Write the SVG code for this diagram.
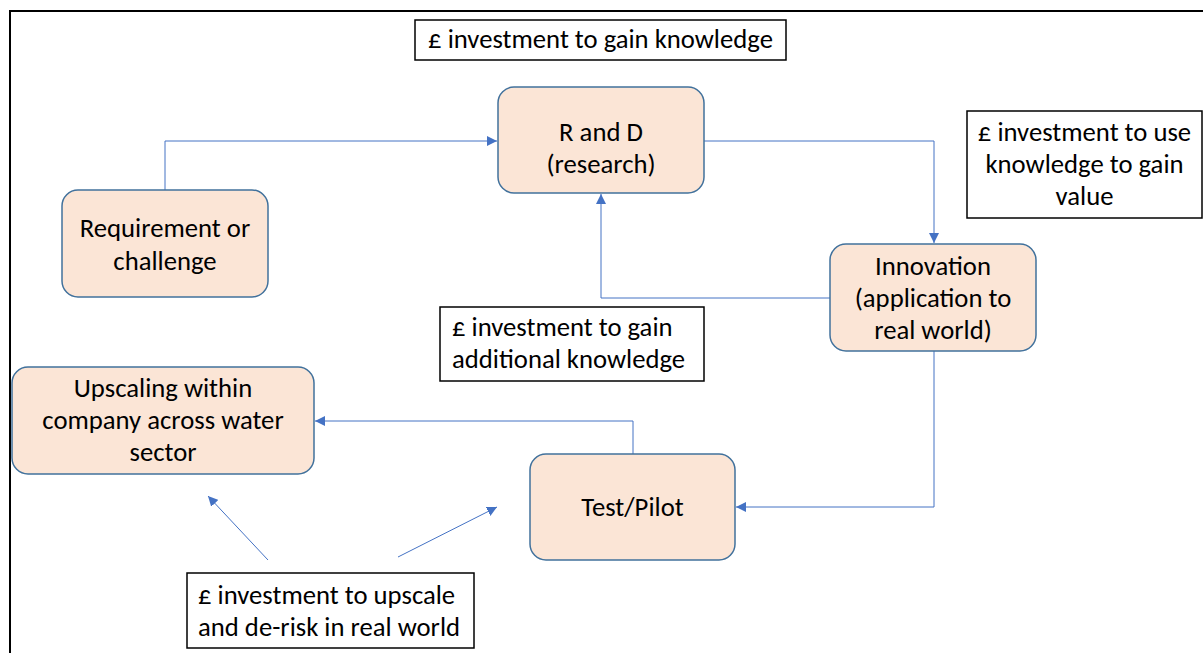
<svg xmlns="http://www.w3.org/2000/svg" width="1203" height="653" viewBox="0 0 1203 653">
<defs>
<style>
.node{fill:#FBE5D6;stroke:#41719C;stroke-width:1.5}
.box{fill:#fff;stroke:#000;stroke-width:1.5}
.t{font-family:Carlito,"Liberation Sans",Arial,sans-serif;font-size:26.7px;fill:#000}
.c{text-anchor:middle}
.conn{fill:none;stroke:#4472C4;stroke-width:1}
</style>
<marker id="arr" viewBox="0 0 10 10" refX="10" refY="5" markerWidth="10" markerHeight="10" markerUnits="userSpaceOnUse" orient="auto">
<path d="M0,0 L10,5 L0,10 z" fill="#4472C4"/>
</marker>
</defs>
<rect width="1203" height="653" fill="#fff"/>
<path d="M10,653 V11 H1203" fill="none" stroke="#000" stroke-width="2"/>

<g id="connectors">
<path class="conn" d="M165,190 V141 H497" marker-end="url(#arr)"/>
<path class="conn" d="M704,141 H934 V243" marker-end="url(#arr)"/>
<path class="conn" d="M830,298 H601 V194" marker-end="url(#arr)"/>
<path class="conn" d="M934,351 V507 H736" marker-end="url(#arr)"/>
<path class="conn" d="M633,454 V421 H315" marker-end="url(#arr)"/>
<path class="conn" d="M268,560 L208,496" marker-end="url(#arr)"/>
<path class="conn" d="M398,557 L497,507" marker-end="url(#arr)"/>
</g>

<g id="label-gain-knowledge">
<rect class="box" x="415" y="20" width="371" height="40"/>
<text class="t c" x="600.5" y="48">£ investment to gain knowledge</text>
</g>

<g id="node-rd">
<rect class="node" x="498" y="87" width="206" height="106" rx="16"/>
<text class="t c" x="601" y="141">R and D</text>
<text class="t c" x="601" y="173">(research)</text>
</g>

<g id="label-use-knowledge">
<rect class="box" x="967" y="111" width="235" height="107"/>
<text class="t c" x="1084.5" y="141">£ investment to use</text>
<text class="t c" x="1084.5" y="173">knowledge to gain</text>
<text class="t c" x="1084.5" y="205">value</text>
</g>

<g id="node-requirement">
<rect class="node" x="62" y="190" width="206" height="107" rx="16"/>
<text class="t c" x="165" y="237">Requirement or</text>
<text class="t c" x="165" y="270">challenge</text>
</g>

<g id="node-innovation">
<rect class="node" x="830" y="244" width="206" height="107" rx="16"/>
<text class="t c" x="933" y="275">Innovation</text>
<text class="t c" x="933" y="307">(application to</text>
<text class="t c" x="933" y="339">real world)</text>
</g>

<g id="label-additional-knowledge">
<rect class="box" x="440" y="307" width="264" height="74"/>
<text class="t" x="452" y="336">£ investment to gain</text>
<text class="t" x="452" y="368">additional knowledge</text>
</g>

<g id="node-upscaling">
<rect class="node" x="12" y="367" width="302" height="107" rx="16"/>
<text class="t c" x="163" y="397">Upscaling within</text>
<text class="t c" x="163" y="429">company across water</text>
<text class="t c" x="163" y="461">sector</text>
</g>

<g id="node-test">
<rect class="node" x="530" y="454" width="205" height="106" rx="16"/>
<text class="t c" x="632.5" y="516">Test/Pilot</text>
</g>

<g id="label-upscale">
<rect class="box" x="187" y="573" width="287" height="75"/>
<text class="t" x="198" y="604">£ investment to upscale</text>
<text class="t" x="198" y="636">and de-risk in real world</text>
</g>
</svg>
